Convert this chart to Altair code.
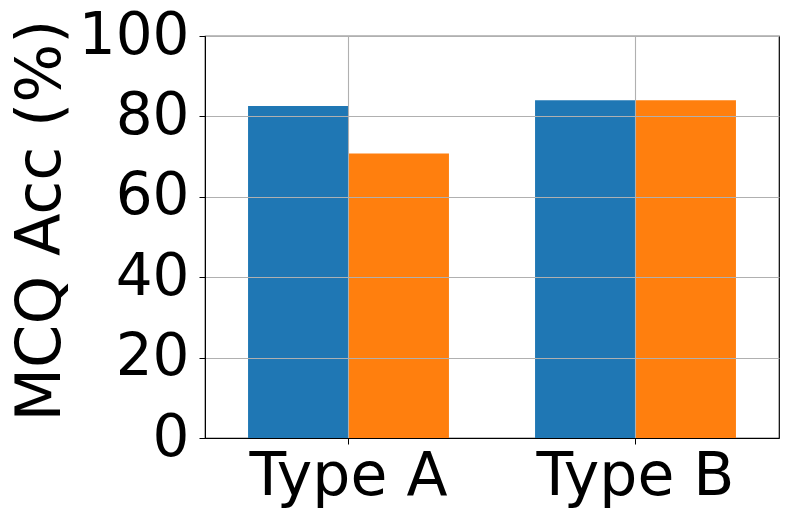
import altair as alt
import pandas as pd

categories = ["Type A", "Type A", "Type B", "Type B"]
series = ["S1", "S2", "S1", "S2"]
values = [82.6, 70.8, 84.0, 84.0]

df = pd.DataFrame({"cat": categories, "series": series, "value": values})

FONT = "DejaVu Sans"
FS = 58

chart = alt.Chart(df).mark_bar().encode(
    x=alt.X("cat:N", title=None,
            scale=alt.Scale(paddingInner=0.3, paddingOuter=0.15),
            axis=alt.Axis(labelAngle=0, labelFontSize=60, labelFont=FONT, labelColor="black",
                          labelLimit=1000, zindex=1,
                          domainColor="black", tickColor="black", tickSize=6,
                          grid=True, gridColor="#b0b0b0", gridWidth=1.1, bandPosition=0.5,
                          labelPadding=3)),
    xOffset=alt.XOffset("series:N", scale=alt.Scale(paddingInner=0, paddingOuter=0)),
    y=alt.Y("value:Q", title="MCQ Acc (%)",
            scale=alt.Scale(domain=[0, 100], nice=False),
            axis=alt.Axis(values=[0, 20, 40, 60, 80, 100], labelFontSize=FS, labelFont=FONT,
                          labelColor="black", labelLimit=1000, zindex=1,
                          titleFontSize=62, titleFont=FONT, titleLimit=1000,
                          titleFontWeight="normal", titleColor="black",
                          domainColor="black", tickColor="black", tickSize=6,
                          gridColor="#b0b0b0", gridWidth=1.1, labelPadding=10,
                          titleX=-146, titleY=184, titleBaseline="alphabetic",
                          titleAlign="center", titleAngle=270)),
    color=alt.Color("series:N", legend=None,
                    scale=alt.Scale(domain=["S1", "S2"], range=["#1f77b4", "#ff7f0e"])),
).properties(
    width=574, height=402,
    autosize=alt.AutoSizeParams(type="none"),
    padding={"left": 197, "top": 28, "right": 6, "bottom": 70},
).configure_view(stroke="black", strokeWidth=1.2)

chart.save("out.html", embed_options={"renderer": "svg", "actions": False})
